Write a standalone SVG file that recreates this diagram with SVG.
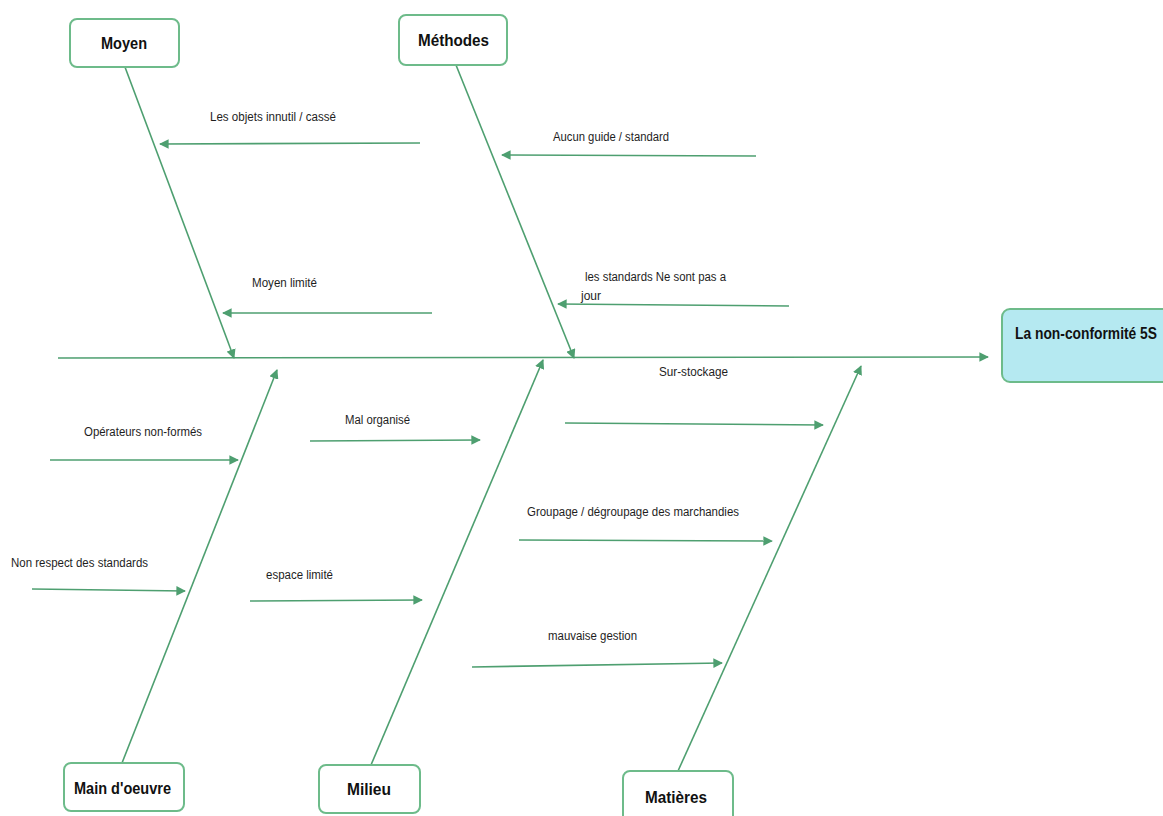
<svg xmlns="http://www.w3.org/2000/svg" width="1163" height="816" viewBox="0 0 1163 816">
<style>
.box{fill:#ffffff;stroke:#6dbb8a;stroke-width:2}
.head{fill:#b5e9f1;stroke:#6dbb8a;stroke-width:2}
.ln{stroke:#4e9f70;stroke-width:1.6;fill:none;marker-end:url(#ah)}
.t{font-family:"Liberation Sans Narrow","Liberation Sans",Arial,sans-serif;font-size:12px;fill:#1e1e1e}
.b{font-family:"Liberation Sans Narrow","Liberation Sans",Arial,sans-serif;font-size:16px;font-weight:bold;fill:#111111}
</style>
<defs>
<marker id="ah" viewBox="0 0 10 10" refX="9" refY="5" markerWidth="6" markerHeight="6" orient="auto" markerUnits="strokeWidth">
<path d="M0,0 L10,5 L0,10 z" fill="#4e9f70"/>
</marker>
</defs>
<rect width="1163" height="816" fill="#ffffff"/>
<g id="connectors">
<line class="ln" x1="58" y1="358" x2="988" y2="357"/>
<line class="ln" x1="125" y1="67" x2="234" y2="358"/>
<line class="ln" x1="456" y1="65" x2="574" y2="358"/>
<line class="ln" x1="122" y1="763" x2="277" y2="370"/>
<line class="ln" x1="371" y1="765" x2="543" y2="360"/>
<line class="ln" x1="678" y1="771" x2="861" y2="366"/>
<line class="ln" x1="420" y1="143" x2="160" y2="144"/>
<line class="ln" x1="756" y1="156" x2="502" y2="155"/>
<line class="ln" x1="432" y1="313" x2="223" y2="313"/>
<line class="ln" x1="789" y1="306" x2="558" y2="304"/>
<line class="ln" x1="50" y1="460" x2="238" y2="460"/>
<line class="ln" x1="32" y1="589" x2="185" y2="591"/>
<line class="ln" x1="310" y1="441" x2="480" y2="440"/>
<line class="ln" x1="250" y1="601" x2="422" y2="600"/>
<line class="ln" x1="565" y1="423" x2="823" y2="425"/>
<line class="ln" x1="519" y1="540" x2="772" y2="541"/>
<line class="ln" x1="472" y1="667" x2="722" y2="663"/>
</g>
<g id="labels">
<text class="t" x="210" y="121" textLength="126" lengthAdjust="spacingAndGlyphs">Les objets innutil / cassé</text>
<text class="t" x="553" y="141" textLength="116" lengthAdjust="spacingAndGlyphs">Aucun guide / standard</text>
<text class="t" x="252" y="287" textLength="65" lengthAdjust="spacingAndGlyphs">Moyen limité</text>
<text class="t" x="585" y="281" textLength="141" lengthAdjust="spacingAndGlyphs">les standards Ne sont pas a</text>
<text class="t" x="581" y="300" textLength="20" lengthAdjust="spacingAndGlyphs">jour</text>
<text class="t" x="84" y="436" textLength="118" lengthAdjust="spacingAndGlyphs">Opérateurs non-formés</text>
<text class="t" x="11" y="567" textLength="137" lengthAdjust="spacingAndGlyphs">Non respect des standards</text>
<text class="t" x="345" y="424" textLength="65" lengthAdjust="spacingAndGlyphs">Mal organisé</text>
<text class="t" x="266" y="579" textLength="67" lengthAdjust="spacingAndGlyphs">espace limité</text>
<text class="t" x="659" y="376" textLength="69" lengthAdjust="spacingAndGlyphs">Sur-stockage</text>
<text class="t" x="527" y="516" textLength="212" lengthAdjust="spacingAndGlyphs">Groupage / dégroupage des marchandies</text>
<text class="t" x="548" y="640" textLength="89" lengthAdjust="spacingAndGlyphs">mauvaise gestion</text>
</g>
<g id="moyen">
<rect class="box" x="70" y="19" width="109" height="48" rx="7"/>
<text class="b" x="101" y="49" textLength="46" lengthAdjust="spacingAndGlyphs">Moyen</text>
</g>
<g id="methodes">
<rect class="box" x="399" y="15" width="108" height="50" rx="7"/>
<text class="b" x="418" y="46" textLength="71" lengthAdjust="spacingAndGlyphs">Méthodes</text>
</g>
<g id="effet">
<rect class="head" x="1002" y="309" width="175" height="73" rx="8"/>
<text class="b" x="1015" y="339" textLength="142" lengthAdjust="spacingAndGlyphs">La non-conformité 5S</text>
</g>
<g id="main-oeuvre">
<rect class="box" x="64" y="763" width="120" height="48" rx="7"/>
<text class="b" x="74" y="794" textLength="97" lengthAdjust="spacingAndGlyphs">Main d'oeuvre</text>
</g>
<g id="milieu">
<rect class="box" x="319" y="765" width="101" height="48" rx="7"/>
<text class="b" x="347" y="795" textLength="44" lengthAdjust="spacingAndGlyphs">Milieu</text>
</g>
<g id="matieres">
<rect class="box" x="623" y="771" width="110" height="60" rx="7"/>
<text class="b" x="645" y="803" textLength="62" lengthAdjust="spacingAndGlyphs">Matières</text>
</g>
</svg>
